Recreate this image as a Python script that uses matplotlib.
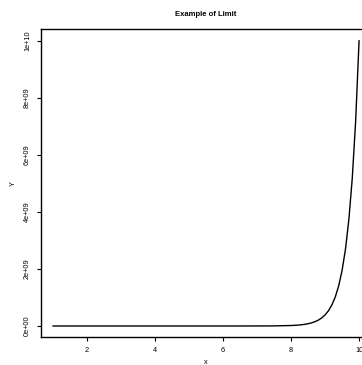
import matplotlib
matplotlib.use("Agg")
import matplotlib.pyplot as plt

## Data (curve climbs to 1e10 at x = 10)

x_flat = [1, 2, 3, 4, 5, 6, 7, 7.5]
y_flat = [1, 4, 27, 256, 3125, 46656, 823543, 3.65e6]

x_rise = [8.0, 8.1, 8.2, 8.3, 8.4, 8.5, 8.6, 8.7, 8.8, 8.9,
          9.0, 9.1, 9.2, 9.3, 9.4, 9.5, 9.6, 9.7, 9.8, 9.9, 10.0]
y_rise = [1.678e7, 2.284e7, 3.114e7, 4.250e7, 5.807e7, 7.945e7, 1.088e8, 1.492e8, 2.049e8, 2.815e8,
          3.874e8, 5.337e8, 7.359e8, 1.016e9, 1.404e9, 1.943e9, 2.690e9, 3.730e9, 5.176e9, 7.190e9,
          1.0e10]

x_ticks = [2, 4, 6, 8, 10]
y_ticks = [0, 2e9, 4e9, 6e9, 8e9, 1e10]
y_tick_labels = ["0e+00", "2e+09", "4e+09", "6e+09", "8e+09", "1e+10"]

plt.rcParams['font.family'] = ['Liberation Sans', 'DejaVu Sans']

fig = plt.figure(figsize=(3.62, 3.65), dpi=100)
# axes runs past the right edge, like the cropped original
ax = fig.add_axes([40.8 / 362, 27.6 / 365, 330.5 / 362, 308 / 365])

ax.plot(x_flat + x_rise, y_flat + y_rise, color="black", lw=1.0)

ax.set_xlim(0.64, 10.36)
ax.set_ylim(-4e8, 1.04e10)

ax.set_xticks(x_ticks)
ax.set_yticks(y_ticks)
ax.set_yticklabels(y_tick_labels, rotation=90, va="center")
ax.tick_params(labelsize=5.3, length=3, width=0.8, color="black", pad=4)

for s in ax.spines.values():
    s.set_linewidth(1.0)

ax.set_title("Example of Limit", fontsize=5.5, fontweight="bold", pad=10)
ax.set_xlabel("x", fontsize=5.3, labelpad=3.5)
ax.set_ylabel("Y", fontsize=5.3, labelpad=5)

fig.savefig("out.png", dpi=100)
